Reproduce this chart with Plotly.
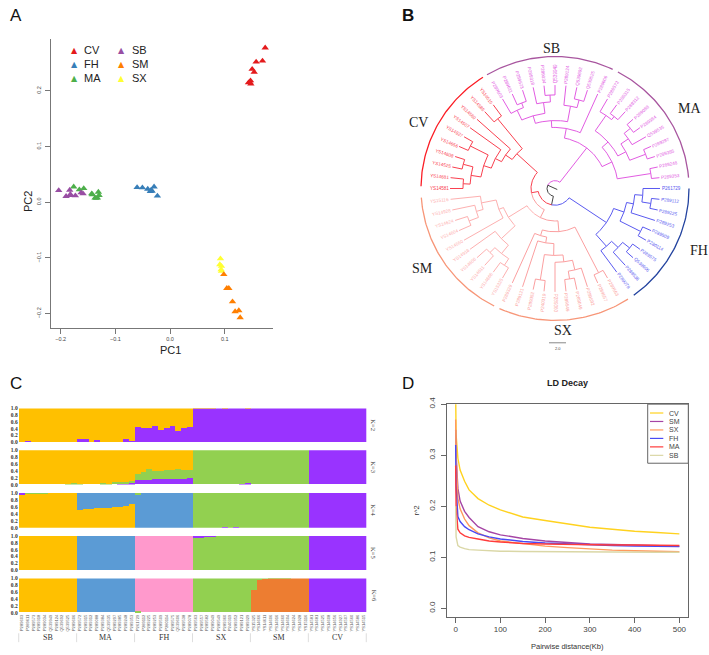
import math
import plotly.graph_objects as go

W, H = 709, 655

# ---------- Panel A data ----------
PCA_GROUPS = ["CV", "FH", "MA", "SB", "SX", "SM"]
PCA_COLORS = ["#e41a1c", "#377eb8", "#4daf4a", "#984ea3", "#ffff33", "#ff7f00"]
CV_PC1 = [.1737, .1688, .1572, .1499, .1536, .1469, .1432, .1475, .1456]
CV_PC2 = [.2773, .2537, .2519, .2389, .2336, .2183, .2147, .2124, .2153]
FH_PC1 = [-.0603, -.0506, -.0408, -.0360, -.0329, -.0293, -.0232, -.0347]
FH_PC2 = [.0265, .0260, .0236, .0195, .0201, .0277, .0112, .0218]
MA_PC1 = [-.1761, -.1658, -.1578, -.1432, -.1420, -.1371, -.1310, -.1298, -.1328, -.1353]
MA_PC2 = [.0277, .0224, .0248, .0153, .0136, .0077, .0183, .0124, .0077, .0071]
SB_PC1 = [-.2035, -.1901, -.1834, -.1822, -.1731, -.1627, -.1590, -.1822]
SB_PC2 = [.0212, .0106, .0218, .0142, .0118, .0171, .0153, .0124]
SX_PC1 = [.0920, .0908, .0938, .0932, .0938]
SX_PC2 = [-.1015, -.1121, -.1150, -.1209, -.1239]
SM_PC1 = [.0981, .1036, .1073, .1140, .1188, .1255, .1280]
SM_PC2 = [-.1298, -.1546, -.1546, -.1788, -.1965, -.1947, -.2071]
PCA_X = [CV_PC1, FH_PC1, MA_PC1, SB_PC1, SX_PC1, SM_PC1]
PCA_Y = [CV_PC2, FH_PC2, MA_PC2, SB_PC2, SX_PC2, SM_PC2]

# ---------- Panel B data ----------
FH_LEAVES = ["P261729", "P289112", "P289225", "P289253", "P289509", "P280114", "P289575", "Q539606", "P289538", "P289078"]
SX_LEAVES = ["P289563", "P289557", "P289582", "P289049", "P289549", "P289360", "P240319", "P289352", "P289121", "P289329"]
SM_LEAVES = ["YS15325", "YS14666", "YS14611", "YS14606", "YS14916", "YS14660", "YS14604", "YS14624", "YS14928", "YS15116"]
CV_LEAVES = ["YS14581", "YS14681", "YS14525", "YS14608", "YS14656", "YS14927", "YS14507", "YS14560", "YS14586", "YS14515"]
SB_LEAVES = ["P289603", "P289611", "P289573", "P289318", "P289034", "Q539949", "P289124", "Q539692", "Q539525", "P289606"]
MA_LEAVES = ["P289572", "P289315", "P289312", "P289088", "P289384", "Q539535", "P289297", "P289385", "P289248", "P289353"]
LEAVES = FH_LEAVES + SX_LEAVES + SM_LEAVES + CV_LEAVES + SB_LEAVES + MA_LEAVES
LEAF_STEP = 6
LEAF_TIP = 105
LABEL_MID = 116
# nodes: [node height, child, child]; a child is a leaf index or another node
FH_TREE = [62, [73, [80, [88, 0, [97, 1, 2]], 3], [96, 4, 5]], [78, [87, [96, 6, 7], 8], 9]]
SX_TREE = [44, [96, 10, 11], [50, [56, [68, [75, [85, 12, [93, 13, 14]], 15], [94, 16, 17]], 18], 19]]
SM_TREE = [55, [74, [85, [93, 20, 21], [92, 22, 23]], 24], [60, 25, [75, [82, [92, 26, 27], 28], 29]]]
CV_TREE = [52, [60, [67, [75, [85, [92, 30, 31], [95, 32, 33]], [95, 34, 35]], 36], 37], [91, 38, 39]]
SB_TREE = [62, [69, [77, [88, 40, [93, 41, 42]], [88, 43, [95, 44, 45]]], [85, 46, [93, 47, 48]]], 49]
MA_TREE = [63, [71, [90, 50, [94, 51, 52]], [80, [89, [97, 53, 54], 55], [97, 56, 57]]], [97, 58, 59]]
ROOT = [8, [17, FH_TREE, [24, [33, SX_TREE, SM_TREE], CV_TREE]], [52, SB_TREE, MA_TREE]]
CLADE_COLOR = {"FH": "#5a5af0", "SX": "#fb9fa0", "SM": "#fdb0b0", "CV": "#f9404f", "SB": "#e25ce2", "MA": "#e25ce2"}
OUTER_ARCS = [("FH", 0, 54, "#23439f"), ("SX", 57, 114.5, "#f79678"), ("SM", 117, 176, "#f79678"),
              ("CV", 181, 237.5, "#fb1d25"), ("SB", 239.5, 295.5, "#a8569f"), ("MA", 298, 355.3, "#a8569f")]
CLADE_LABEL_POS = {"SB": (551, 42), "MA": (689, 103), "FH": (699, 247), "SX": (563, 329), "SM": (422, 266), "CV": (418, 117)}

# ---------- Panel C data ----------
GROUPS = ["SB", "MA", "FH", "SX", "SM", "CV"]
ONE = [1, 1, 1, 1, 1, 1, 1, 1, 1, 1]
ZERO = [0, 0, 0, 0, 0, 0, 0, 0, 0, 0]
YELLOW, PURPLE, GREEN, BLUE, PINK, ORANGE = "#FFC000", "#9933FF", "#92D050", "#5B9BD5", "#FF99CC", "#ED7D31"

K2_PURPLE = ([0, .03, 0, 0, 0, 0, 0, 0, 0, 0] + [.09, .07, 0, .06, 0, 0, 0, 0, .09, .02]
             + [.44, .41, .40, .47, .36, .41, .46, .32, .41, .44] + [.995, .995, .99, .99, 1, .995, 1, 1, 1, .995] + ONE + ONE)

K3_PURPLE = (ZERO + [0, 0, 0, 0, 0, 0, 0, .02, .02, .03]
             + [.13, .14, .14, .15, .15, .16, .16, .16, .16, .19] + [0, 0, 0, 0, 0, 0, 0, 0, .02, .03] + ZERO + ONE)
K3_GREEN = ([0, 0, 0, 0, 0, 0, 0, 0, .01, .03] + [.02, 0, 0, 0, .04, .01, .07, .05, .05, .08]
            + [.17, .21, .30, .23, .24, .25, .26, .30, .26, .24] + [1, 1, 1, 1, 1, 1, 1, 1, .98, .97] + ONE + ZERO)

K4_PURPLE_LOW = (ZERO + ZERO + ZERO + [0, 0, 0, 0, 0, .03, 0, .03, 0, 0] + ZERO + ONE)
K4_YELLOW = ([.96, .99, .99, .99, .99, 1, 1, 1, 1, 1] + [.51, .53, .55, .56, .57, .58, .59, .60, .63, .68] + ZERO + ZERO + ZERO + ZERO)
K4_BLUE = (ZERO + [.49, .47, .45, .44, .43, .42, .41, .40, .37, .32] + [.94, 1, 1, 1, 1, 1, 1, 1, 1, 1] + ZERO + ZERO + ZERO)
K4_GREEN = ([0, .01, .01, .01, .01, 0, 0, 0, 0, 0] + ZERO + [.06, 0, 0, 0, 0, 0, 0, 0, 0, 0]
            + [1, 1, 1, 1, 1, .97, 1, .97, 1, 1] + ONE + ZERO)
K4_PURPLE_TOP = ([.04, 0, 0, 0, 0, 0, 0, 0, 0, 0] + ZERO + ZERO + ZERO + ZERO + ZERO)

K5_YELLOW = (ONE + ZERO + ZERO + ZERO + ZERO + ZERO)
K5_BLUE = (ZERO + ONE + ZERO + ZERO + ZERO + ZERO)
K5_PINK = (ZERO + ZERO + ONE + ZERO + ZERO + ZERO)
K5_GREEN = (ZERO + ZERO + ZERO + [.94, .97, .99, .99, 1, 1, 1, 1, 1, 1] + ONE + ZERO)
K5_PURPLE = (ZERO + ZERO + ZERO + [.06, .03, .01, .01, 0, 0, 0, 0, 0, 0] + ZERO + ONE)

K6_GREEN_LOW = (ZERO + ZERO + [.03, 0, 0, 0, 0, 0, 0, 0, 0, 0] + ZERO + ZERO + ZERO)
K6_YELLOW = (ONE + ZERO + ZERO + ZERO + ZERO + ZERO)
K6_BLUE = (ZERO + ONE + ZERO + ZERO + ZERO + ZERO)
K6_PINK = (ZERO + ZERO + [.97, 1, 1, 1, 1, 1, 1, 1, 1, 1] + ZERO + ZERO + ZERO)
K6_ORANGE = (ZERO + ZERO + ZERO + ZERO + [.65, .95, .98, .99, .99, .99, .99, 1, 1, 1] + ZERO)
K6_GREEN = (ZERO + ZERO + ZERO + ONE + [.35, .05, .02, .01, .01, .01, .01, 0, 0, 0] + ZERO)
K6_PURPLE = (ZERO + ZERO + ZERO + ZERO + ZERO + ONE)

K_ROWS = [
    ("K=2", 407.7, 442.0, [(PURPLE, K2_PURPLE), (YELLOW, [round(1 - v, 3) for v in K2_PURPLE])]),
    ("K=3", 450.0, 485.0, [(PURPLE, K3_PURPLE), (GREEN, K3_GREEN),
                           (YELLOW, [round(1 - a - b, 3) for a, b in zip(K3_PURPLE, K3_GREEN)])]),
    ("K=4", 493.3, 528.7, [(PURPLE, K4_PURPLE_LOW), (YELLOW, K4_YELLOW), (BLUE, K4_BLUE), (GREEN, K4_GREEN), (PURPLE, K4_PURPLE_TOP)]),
    ("K=5", 537.0, 572.0, [(YELLOW, K5_YELLOW), (BLUE, K5_BLUE), (PINK, K5_PINK), (GREEN, K5_GREEN), (PURPLE, K5_PURPLE)]),
    ("K=6", 580.3, 615.3, [(GREEN, K6_GREEN_LOW), (YELLOW, K6_YELLOW), (BLUE, K6_BLUE), (PINK, K6_PINK), (ORANGE, K6_ORANGE), (GREEN, K6_GREEN), (PURPLE, K6_PURPLE)]),
]
SAMPLES = SB_LEAVES + MA_LEAVES + FH_LEAVES + SX_LEAVES + SM_LEAVES + CV_LEAVES

# ---------- Panel D data ----------
LD_X = [0, 1, 5, 10, 20, 30, 50, 75, 100, 150, 200, 250, 300, 350, 400, 450, 500]
LD_CV = [.42, .34, .294, .271, .249, .232, .215, .202, .193, .179, .172, .165, .159, .155, .151, .1485, .146]
LD_SM = [.35, .30, .235, .210, .190, .178, .160, .150, .144, .137, .132, .129, .126, .125, .124, .123, .122]
LD_SX = [.37, .30, .215, .195, .175, .162, .148, .138, .132, .127, .122, .119, .116, .114, .113, .112, .111]
LD_FH = [.32, .24, .180, .170, .160, .154, .146, .140, .136, .131, .128, .126, .124, .123, .122, .122, .121]
LD_MA = [.28, .20, .155, .148, .142, .139, .136, .132, .130, .127, .126, .125, .125, .124, .124, .123, .123]
LD_SB = [.20, .14, .123, .120, .117, .115, .114, .113, .112, .1115, .111, .111, .111, .1105, .1105, .110, .110]
LD_NAMES = ["CV", "SM", "SX", "FH", "MA", "SB"]
LD_SERIES = [LD_CV, LD_SM, LD_SX, LD_FH, LD_MA, LD_SB]
LD_COLORS = ["#FFD21F", "#A545A5", "#FF9A5C", "#4A4AF5", "#FF3B3B", "#DAD7A6"]


def px(x):
    return x / W


def py(y):
    return 1 - y / H


fig = go.Figure()
annotations = []
shapes = []


def text(t, x, y, size, color="#222222", family="Liberation Sans", angle=0, xanchor="center"):
    annotations.append(dict(text=t, x=px(x), y=py(y), xref="paper", yref="paper", showarrow=False,
                            font=dict(size=size, color=color, family=family), textangle=angle,
                            xanchor=xanchor, yanchor="middle", borderpad=0, borderwidth=0))


for t, x, y in [("A", 16, 9), ("<b>B</b>", 408, 9), ("C", 16, 382), ("D", 408, 382)]:
    text(t, x, y, 17, "#111111")

# ---------- Panel A ----------
for name, col, xs, ys in zip(PCA_GROUPS, PCA_COLORS, PCA_X, PCA_Y):
    fig.add_trace(go.Scatter(x=xs, y=ys, mode="markers", name=name, showlegend=False, xaxis="x", yaxis="y",
                             marker=dict(symbol="triangle-up", size=6.5, color=col, line=dict(width=0))))
legend_rows = [("CV", 0, 0), ("FH", 0, 1), ("MA", 0, 2), ("SB", 1, 0), ("SM", 1, 1), ("SX", 1, 2)]
legend_col = {"CV": "#e41a1c", "FH": "#377eb8", "MA": "#4daf4a", "SB": "#984ea3", "SM": "#ff7f00", "SX": "#ffff33"}
for name, c, r in legend_rows:
    yy = 43.7 + r * 14.3
    text("\u25b2", 74 + c * 47.7, yy, 8, legend_col[name], "DejaVu Sans")
    text(name, 84.3 + c * 47.7, yy, 11, "#222222", xanchor="left")
text("PC2", 28, 198, 11, angle=-90)
text("PC1", 170, 348, 11)

axis_a = dict(showgrid=False, zeroline=False, showline=True, linecolor="#777777", linewidth=1, ticks="outside",
              ticklen=5, tickcolor="#777777", tickfont=dict(size=5.5, color="#444444", family="Liberation Sans"))
layout = dict(
    xaxis=dict(domain=[px(51), px(273)], range=[-0.2176, 0.188], anchor="y", tickvals=[-.2, -.1, 0, .1],
               ticktext=["\u22120.2", "\u22120.1", "0.0", "0.1"], tickangle=0, **axis_a),
    yaxis=dict(domain=[py(326), py(32)], range=[-0.226, 0.294], anchor="x", tickvals=[-.2, -.1, 0, .1, .2],
               ticktext=["\u22120.2", "\u22120.1", "0.0", "0.1", "0.2"], tickangle=-90, ticklabelstandoff=2, **axis_a),
)

# ---------- Panel B ----------
CX, CY, SPAN = 555, 184.3, 150
layout["xaxis2"] = dict(domain=[px(CX - SPAN), px(CX + SPAN)], range=[-SPAN, SPAN], visible=False, anchor="y2")
layout["yaxis2"] = dict(domain=[py(CY + SPAN), py(CY - SPAN)], range=[-SPAN, SPAN], visible=False, anchor="x2")


def leaf_color(i):
    clade = ["FH", "SX", "SM", "CV", "SB", "MA"][i // 10]
    return CLADE_COLOR[clade]


def leaves_of(node):
    if isinstance(node, int):
        return [node]
    return [v for c in node[1:] for v in leaves_of(c)]


def node_color(node):
    cols = {leaf_color(i) for i in leaves_of(node)}
    if len(cols) == 1:
        return cols.pop()
    if CLADE_COLOR["FH"] in cols and len(cols) > 1:
        return "#444444"
    if CLADE_COLOR["SB"] in cols and len(cols) > 1:
        return "#444444"
    if CLADE_COLOR["SX"] in cols and CLADE_COLOR["SM"] in cols and CLADE_COLOR["CV"] not in cols:
        return CLADE_COLOR["SX"]
    return CLADE_COLOR["CV"]


def node_angle(node):
    if isinstance(node, int):
        return node * LEAF_STEP
    return (node_angle(node[1]) + node_angle(node[-1])) / 2


segs = {}


def add_polyline(color, pts):
    store = segs.setdefault(color, ([], []))
    for (r, a) in pts:
        store[0].append(r * math.cos(math.radians(a)))
        store[1].append(-r * math.sin(math.radians(a)))
    store[0].append(None)
    store[1].append(None)


def walk(node):
    r0 = node[0]
    a0 = node_angle(node)
    for child in node[1:]:
        col = leaf_color(child) if isinstance(child, int) else node_color(child)
        ac = node_angle(child)
        n = max(2, int(abs(ac - a0) / 2) + 2)
        arc = [(r0, a0 + (ac - a0) * k / (n - 1)) for k in range(n)]
        rc = LEAF_TIP if isinstance(child, int) else child[0]
        add_polyline(col, arc + [(rc, ac)])
        if not isinstance(child, int):
            walk(child)


walk(ROOT)
add_polyline("#444444", [(-2.5, node_angle(ROOT)), (ROOT[0], node_angle(ROOT))])
for col, (xs, ys) in segs.items():
    fig.add_trace(go.Scatter(x=xs, y=ys, mode="lines", line=dict(color=col, width=1), showlegend=False,
                             hoverinfo="skip", xaxis="x2", yaxis="y2"))
for clade, a0, a1, col in OUTER_ARCS:
    n = int(a1 - a0) + 2
    aa = [a0 + (a1 - a0) * k / (n - 1) for k in range(n)]
    fig.add_trace(go.Scatter(x=[134 * math.cos(math.radians(a)) for a in aa],
                             y=[-134 * math.sin(math.radians(a)) for a in aa],
                             mode="lines", line=dict(color=col, width=1.3), showlegend=False, hoverinfo="skip",
                             xaxis="x2", yaxis="y2"))
    lx, ly = CLADE_LABEL_POS[clade]
    text(clade, lx, ly, 14, "#222222", "Liberation Serif")
for i, lab in enumerate(LEAVES):
    a = i * LEAF_STEP
    rot = a - 180 if 90 < a < 270 else a
    annotations.append(dict(text=lab, x=LABEL_MID * math.cos(math.radians(a)), y=-LABEL_MID * math.sin(math.radians(a)),
                            xref="x2", yref="y2", showarrow=False, textangle=rot, xanchor="center", yanchor="middle",
                            font=dict(size=4.6, color=leaf_color(i), family="Liberation Sans")))
shapes.append(dict(type="line", xref="paper", yref="paper", x0=px(549), x1=px(566), y0=py(341), y1=py(341),
                   line=dict(color="#555555", width=0.7)))
text("2.0", 557.5, 347, 4, "#444444")

# ---------- Panel C ----------
for k, (label, top, bottom, comps) in enumerate(K_ROWS):
    ax = 3 + k
    xn, yn = f"x{ax}", f"y{ax}"
    for col, vals in comps:
        fig.add_trace(go.Bar(x=list(range(60)), y=vals, marker=dict(color=col, line=dict(width=0)), width=1,
                             showlegend=False, xaxis=xn, yaxis=yn))
    last = k == len(K_ROWS) - 1
    layout[f"xaxis{ax}"] = dict(domain=[px(18.7), px(366.3)], range=[-0.5, 59.5], anchor=yn, showgrid=False, zeroline=False,
                                showline=False, ticks="", showticklabels=last, tickmode="array",
                                tickvals=list(range(60)), ticktext=SAMPLES, tickangle=-90,
                                tickfont=dict(size=4.1, color="#555555", family="Liberation Sans"))
    layout[f"yaxis{ax}"] = dict(domain=[py(bottom), py(top)], range=[0, 1], anchor=xn, showgrid=False, zeroline=False,
                                showline=False, ticks="", tickvals=[0, .2, .4, .6, .8, 1],
                                ticktext=["<b>0.0</b>", "<b>0.2</b>", "<b>0.4</b>", "<b>0.6</b>", "<b>0.8</b>", "<b>1.0</b>"],
                                tickfont=dict(size=5.5, color="#333333", family="Liberation Serif"))
    text(label, 374, (top + bottom) / 2, 6.5, "#333333", "Liberation Serif", angle=90)
for g, name in enumerate(GROUPS):
    text(name, 18.7 + 57.93 * (g + 0.5), 640.7, 8, "#333333", "Liberation Serif")
for g in range(7):
    xx = 18.7 + 57.93 * g
    shapes.append(dict(type="line", xref="paper", yref="paper", x0=px(xx), x1=px(xx), y0=py(636), y1=py(645),
                       line=dict(color="#cfcfcf", width=0.7)))

# ---------- Panel D ----------
for name, col, vals in zip(LD_NAMES, LD_COLORS, LD_SERIES):
    fig.add_trace(go.Scatter(x=LD_X, y=vals, mode="lines", name=name, showlegend=False,
                             line=dict(color=col, width=1.4), xaxis="x8", yaxis="y8"))
axis_d = dict(showgrid=False, zeroline=False, showline=True, mirror=True, linecolor="#666666", linewidth=1.2, ticks="outside",
              ticklen=5, tickcolor="#666666", tickfont=dict(size=8, color="#444444", family="Liberation Sans"))
layout["xaxis8"] = dict(domain=[px(446.7), px(688.3)], range=[-20, 520], anchor="y8", tickvals=[0, 100, 200, 300, 400, 500], **axis_d)
layout["yaxis8"] = dict(domain=[py(619), py(403.3)], range=[-0.016, 0.4], anchor="x8", tickvals=[0, .1, .2, .3, .4],
                        ticktext=["0.0", "0.1", "0.2", "0.3", "0.4"], tickangle=-90, ticklabelstandoff=2, **axis_d)
text("<b>LD Decay</b>", 567.7, 382.3, 9, "#222222")
text("Pairwise distance(Kb)", 567.7, 649, 7.5, "#333333")
text("r^2", 416.7, 511.7, 7.5, "#333333", angle=-90)
shapes.append(dict(type="rect", xref="paper", yref="paper", x0=px(647.7), x1=px(688.3), y0=py(463.3), y1=py(403.3),
                   line=dict(color="#666666", width=1), fillcolor="white", layer="above"))
for i, (name, col) in enumerate(zip(LD_NAMES, LD_COLORS)):
    yy = 412.3 + i * 8.6
    shapes.append(dict(type="line", xref="paper", yref="paper", x0=px(650), x1=px(663.3), y0=py(yy), y1=py(yy),
                       line=dict(color=col, width=1.2), layer="above"))
    text(name, 669, yy, 7, "#444444", xanchor="left")

fig.update_layout(width=W, height=H, margin=dict(l=0, r=0, t=0, b=0), paper_bgcolor="white", plot_bgcolor="white",
                  barmode="stack", bargap=0, showlegend=False, annotations=annotations, shapes=shapes, **layout)
fig.write_html("out.html", post_script="document.body.style.margin='0';", config={"displayModeBar": False})
